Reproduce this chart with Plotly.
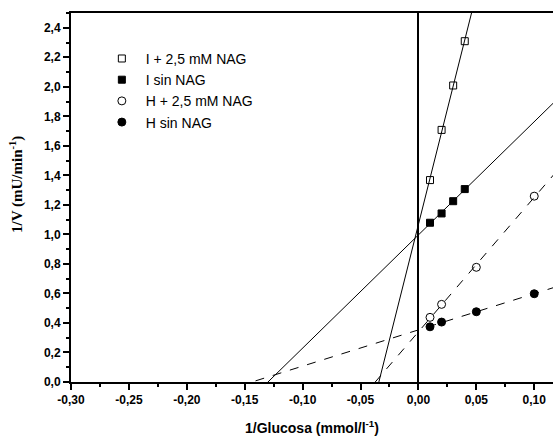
import numpy as np
import plotly.graph_objects as go

# Data (Lineweaver-Burk plot)
x_I = [0.01, 0.02, 0.03, 0.04]
y_I_nag = [1.368, 1.708, 2.009, 2.309]      # I + 2,5 mM NAG
y_I_sin = [1.079, 1.142, 1.225, 1.307]      # I sin NAG
x_H = [0.01, 0.02, 0.05, 0.10]
y_H_nag = [0.438, 0.526, 0.777, 1.259]      # H + 2,5 mM NAG
y_H_sin = [0.374, 0.406, 0.476, 0.598]      # H sin NAG

names = ["I + 2,5 mM NAG", "I sin NAG", "H + 2,5 mM NAG", "H sin NAG"]

x_ticks = [-0.30, -0.25, -0.20, -0.15, -0.10, -0.05, 0.00, 0.05, 0.10]
x_ticklabels = ["-0,30", "-0,25", "-0,20", "-0,15", "-0,10", "-0,05", "0,00", "0,05", "0,10"]
y_ticks = [0.0, 0.2, 0.4, 0.6, 0.8, 1.0, 1.2, 1.4, 1.6, 1.8, 2.0, 2.2, 2.4]
y_ticklabels = ["0,0", "0,2", "0,4", "0,6", "0,8", "1,0", "1,2", "1,4", "1,6", "1,8", "2,0", "2,2", "2,4"]

fig = go.Figure()

line_x = np.array([-0.20, 0.13])
series = [
    (x_I, y_I_nag, "square-open", "solid", 7),
    (x_I, y_I_sin, "square", "solid", 7),
    (x_H, y_H_nag, "circle-open", "dash", 8),
    (x_H, y_H_sin, "circle", "dash", 8),
]

# regression lines (linear fits of each series, extrapolated)
for xs, ys, sym, dash, sz in series:
    m, b = np.polyfit(xs, ys, 1)
    fig.add_trace(go.Scatter(x=line_x, y=m * line_x + b, mode="lines",
                             line=dict(color="black", width=1, dash=dash),
                             showlegend=False, hoverinfo="skip"))

for (xs, ys, sym, dash, sz), nm in zip(series, names):
    fig.add_trace(go.Scatter(x=xs, y=ys, mode="markers", name="\u00a0" + nm,
                             marker=dict(symbol=sym, size=sz, color="black",
                                         line=dict(color="black", width=1))))

tickfont = dict(family="Arial, Liberation Sans", size=12, color="black")

fig.update_layout(
    width=553, height=436,
    margin=dict(l=71, r=0, t=13, b=54),
    paper_bgcolor="white", plot_bgcolor="white",
    showlegend=True,
    legend=dict(x=0.064, y=0.919, xanchor="left", yanchor="top",
                bgcolor="rgba(0,0,0,0)",
                font=dict(family="Arial, Liberation Sans", size=14, color="black"),
                tracegroupgap=0, itemwidth=30),
    xaxis=dict(range=[-0.30, 0.1162], tickmode="array", tickvals=x_ticks,
               ticktext=["<b>" + t + "</b>" for t in x_ticklabels],
               showline=True, linecolor="black", linewidth=2, mirror=True,
               ticks="outside", ticklen=6, tickwidth=1.5, tickcolor="black",
               minor=dict(dtick=0.025, ticks="outside", ticklen=3, tickwidth=1.5, tickcolor="black"),
               showgrid=False, zeroline=True, zerolinecolor="black", zerolinewidth=2,
               tickfont=tickfont),
    yaxis=dict(range=[0, 2.5], tickmode="array", tickvals=y_ticks,
               ticktext=["<b>" + t + "</b>" for t in y_ticklabels],
               showline=True, linecolor="black", linewidth=2,
               ticks="outside", ticklen=6, tickwidth=1.5, tickcolor="black",
               minor=dict(dtick=0.1, ticks="outside", ticklen=3, tickwidth=1.5, tickcolor="black"),
               showgrid=False, zeroline=False, tickfont=tickfont),
    annotations=[
        dict(text="<b>1/Glucosa (mmol/l<sup>-1</sup>)</b>", xref="paper", yref="paper",
             x=(312 - 71) / 482, y=-45 / 369, xanchor="center", yanchor="middle",
             showarrow=False, font=dict(family="Arial, Liberation Sans", size=14, color="black")),
        dict(text="<b>1/V (mU/min<sup>-1</sup>)</b>", xref="paper", yref="paper",
             x=(16 - 71) / 482, y=(382 - 185) / 369, xanchor="center", yanchor="middle",
             textangle=-90, showarrow=False,
             font=dict(family="Times New Roman, Liberation Serif", size=15, color="black")),
    ],
)

fig.write_html("out.html", config={"displayModeBar": False},
               post_script="document.body.style.margin='0';")
